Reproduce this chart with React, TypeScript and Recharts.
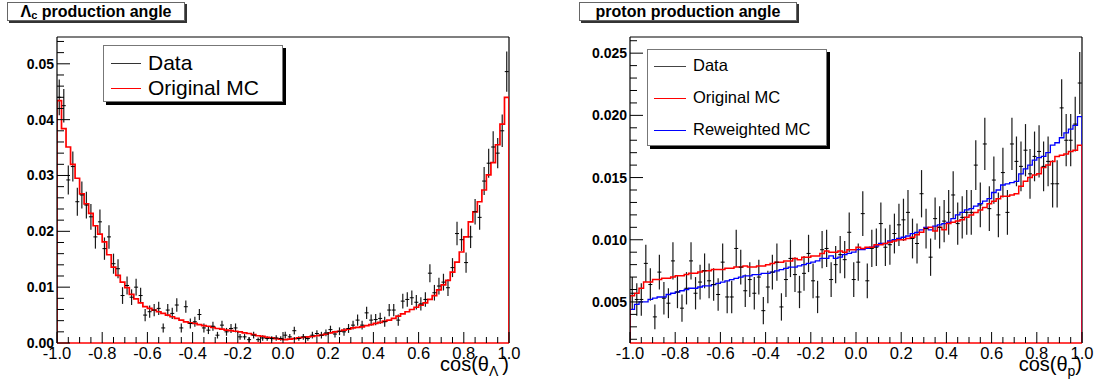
import React from 'react';
import { ComposedChart, Line, Scatter, ErrorBar, XAxis, YAxis, ReferenceLine, Legend, Label } from 'recharts';

// 100 bins over cos(theta) in [-1, 1]
const lambdaData = [
  0.0440, 0.0425, 0.0292, 0.0316, 0.0253, 0.0265, 0.0247, 0.0226, 0.0190, 0.0217,
  0.0169, 0.0190, 0.0142, 0.0133, 0.0085, 0.0103, 0.0082, 0.0100, 0.0085, 0.0050,
  0.0056, 0.0059, 0.0062, 0.0027, 0.0059, 0.0053, 0.0068, 0.0027, 0.0065, 0.0035,
  0.0038, 0.0051, 0.0027, 0.0023, 0.0030, 0.0014, 0.0032, 0.0020, 0.0026, 0.0027,
  0.0011, 0.0011, 0.0006, 0.0014, 0.0006, 0.0009, 0.0008, 0.0008, 0.0009, 0.0008,
  0.0014, 0.0011, 0.0022, 0.0008, 0.0011, 0.0008, 0.0014, 0.0017, 0.0014, 0.0018,
  0.0024, 0.0016, 0.0021, 0.0020, 0.0026, 0.0032, 0.0041, 0.0032, 0.0054, 0.0041,
  0.0042, 0.0044, 0.0038, 0.0059, 0.0059, 0.0041, 0.0075, 0.0078, 0.0081, 0.0073,
  0.0070, 0.0078, 0.0125, 0.0090, 0.0102, 0.0109, 0.0099, 0.0135, 0.0196, 0.0185,
  0.0144, 0.0190, 0.0235, 0.0225, 0.0290, 0.0322, 0.0351, 0.0340, 0.0380, 0.0486,
];
const lambdaErr = [
  0.0032, 0.0030, 0.0026, 0.0027, 0.0025, 0.0024, 0.0024, 0.0023, 0.0021, 0.0022,
  0.0020, 0.0021, 0.0018, 0.0017, 0.0015, 0.0016, 0.0014, 0.0015, 0.0014, 0.0011,
  0.0011, 0.0011, 0.0012, 0.0008, 0.0011, 0.0010, 0.0012, 0.0008, 0.0011, 0.0009,
  0.0009, 0.0010, 0.0008, 0.0007, 0.0008, 0.0006, 0.0008, 0.0007, 0.0008, 0.0008,
  0.0005, 0.0005, 0.0004, 0.0006, 0.0004, 0.0005, 0.0004, 0.0004, 0.0005, 0.0004,
  0.0006, 0.0005, 0.0007, 0.0004, 0.0005, 0.0004, 0.0006, 0.0006, 0.0006, 0.0006,
  0.0007, 0.0006, 0.0007, 0.0007, 0.0008, 0.0008, 0.0010, 0.0008, 0.0011, 0.0010,
  0.0010, 0.0010, 0.0009, 0.0011, 0.0011, 0.0010, 0.0013, 0.0013, 0.0013, 0.0013,
  0.0012, 0.0013, 0.0016, 0.0014, 0.0015, 0.0015, 0.0015, 0.0017, 0.0021, 0.0020,
  0.0018, 0.0020, 0.0023, 0.0022, 0.0025, 0.0026, 0.0028, 0.0027, 0.0029, 0.0036,
];
const lambdaMC = [
  0.0434, 0.0384, 0.0351, 0.0320, 0.0295, 0.0267, 0.0249, 0.0232, 0.0210, 0.0195,
  0.0181, 0.0158, 0.0136, 0.0121, 0.0109, 0.0099, 0.0087, 0.0079, 0.0072, 0.0065,
  0.0062, 0.0059, 0.0056, 0.0053, 0.0050, 0.0047, 0.0044, 0.0041, 0.0038, 0.0036,
  0.0035, 0.0033, 0.0031, 0.0030, 0.0028, 0.0026, 0.0025, 0.0023, 0.0022, 0.0021,
  0.0020, 0.0018, 0.0017, 0.0015, 0.0013, 0.0012, 0.0010, 0.0009, 0.0008, 0.0007,
  0.0006, 0.0007, 0.0008, 0.0009, 0.0010, 0.0011, 0.0012, 0.0013, 0.0014, 0.0016,
  0.0018, 0.0020, 0.0021, 0.0023, 0.0025, 0.0027, 0.0028, 0.0029, 0.0031, 0.0033,
  0.0035, 0.0037, 0.0039, 0.0041, 0.0044, 0.0048, 0.0052, 0.0056, 0.0060, 0.0064,
  0.0068, 0.0072, 0.0078, 0.0085, 0.0095, 0.0104, 0.0112, 0.0127, 0.0145, 0.0163,
  0.0190, 0.0217, 0.0235, 0.0253, 0.0274, 0.0301, 0.0323, 0.0355, 0.0392, 0.0440,
];

const protonData = [
  0.0057, 0.0052, 0.0052, 0.0081, 0.0064, 0.0038, 0.0074, 0.0053, 0.0049, 0.0083,
  0.0058, 0.0045, 0.0061, 0.0083, 0.0057, 0.0066, 0.0075, 0.0067, 0.0064, 0.0056,
  0.0082, 0.0054, 0.0054, 0.0093, 0.0078, 0.0059, 0.0068, 0.0057, 0.0070, 0.0043,
  0.0062, 0.0074, 0.0082, 0.0046, 0.0068, 0.0085, 0.0072, 0.0058, 0.0073, 0.0089,
  0.0067, 0.0054, 0.0092, 0.0093, 0.0068, 0.0080, 0.0088, 0.0084, 0.0106, 0.0068,
  0.0082, 0.0121, 0.0067, 0.0093, 0.0094, 0.0113, 0.0094, 0.0096, 0.0105, 0.0112,
  0.0116, 0.0122, 0.0101, 0.0097, 0.0137, 0.0109, 0.0086, 0.0117, 0.0110, 0.0115,
  0.0122, 0.0136, 0.0113, 0.0118, 0.0122, 0.0122, 0.0160, 0.0128, 0.0177, 0.0125,
  0.0148, 0.0120, 0.0154, 0.0122, 0.0177, 0.0163, 0.0159, 0.0172, 0.0153, 0.0167,
  0.0171, 0.0159, 0.0163, 0.0145, 0.0145, 0.0206, 0.0180, 0.0180, 0.0193, 0.0226,
];
const protonErr = [
  0.0013, 0.0013, 0.0013, 0.0015, 0.0013, 0.0010, 0.0014, 0.0013, 0.0012, 0.0015,
  0.0013, 0.0011, 0.0013, 0.0015, 0.0013, 0.0014, 0.0014, 0.0014, 0.0013, 0.0013,
  0.0015, 0.0013, 0.0013, 0.0015, 0.0014, 0.0013, 0.0014, 0.0013, 0.0014, 0.0011,
  0.0013, 0.0014, 0.0015, 0.0011, 0.0014, 0.0015, 0.0014, 0.0013, 0.0014, 0.0015,
  0.0014, 0.0013, 0.0015, 0.0015, 0.0014, 0.0015, 0.0015, 0.0015, 0.0016, 0.0014,
  0.0015, 0.0018, 0.0014, 0.0015, 0.0015, 0.0017, 0.0015, 0.0016, 0.0016, 0.0017,
  0.0017, 0.0018, 0.0016, 0.0016, 0.0019, 0.0016, 0.0015, 0.0017, 0.0017, 0.0017,
  0.0018, 0.0019, 0.0017, 0.0017, 0.0018, 0.0018, 0.0020, 0.0018, 0.0021, 0.0018,
  0.0019, 0.0018, 0.0020, 0.0018, 0.0021, 0.0020, 0.0020, 0.0021, 0.0020, 0.0020,
  0.0021, 0.0020, 0.0020, 0.0019, 0.0019, 0.0023, 0.0021, 0.0021, 0.0022, 0.0025,
];
const protonMC = [
  0.0055, 0.0057, 0.0061, 0.0066, 0.0066, 0.0068, 0.0068, 0.0069, 0.0069, 0.0070,
  0.0071, 0.0071, 0.0072, 0.0073, 0.0073, 0.0074, 0.0075, 0.0075, 0.0076, 0.0076,
  0.0076, 0.0077, 0.0077, 0.0078, 0.0078, 0.0079, 0.0078, 0.0078, 0.0079, 0.0079,
  0.0080, 0.0081, 0.0082, 0.0082, 0.0083, 0.0083, 0.0085, 0.0084, 0.0086, 0.0086,
  0.0087, 0.0087, 0.0089, 0.0091, 0.0090, 0.0090, 0.0091, 0.0090, 0.0092, 0.0092,
  0.0094, 0.0093, 0.0094, 0.0094, 0.0096, 0.0096, 0.0097, 0.0098, 0.0099, 0.0100,
  0.0100, 0.0101, 0.0102, 0.0104, 0.0106, 0.0109, 0.0110, 0.0107, 0.0110, 0.0108,
  0.0113, 0.0114, 0.0115, 0.0116, 0.0118, 0.0120, 0.0122, 0.0124, 0.0126, 0.0129,
  0.0131, 0.0133, 0.0135, 0.0135, 0.0136, 0.0137, 0.0143, 0.0147, 0.0150, 0.0152,
  0.0153, 0.0158, 0.0160, 0.0163, 0.0167, 0.0168, 0.0169, 0.0171, 0.0172, 0.0176,
];
const protonReweighted = [
  0.0044, 0.0048, 0.0050, 0.0050, 0.0052, 0.0053, 0.0054, 0.0054, 0.0056, 0.0057,
  0.0058, 0.0059, 0.0060, 0.0061, 0.0061, 0.0062, 0.0063, 0.0063, 0.0064, 0.0065,
  0.0066, 0.0067, 0.0068, 0.0069, 0.0070, 0.0071, 0.0071, 0.0072, 0.0072, 0.0073,
  0.0073, 0.0074, 0.0075, 0.0076, 0.0077, 0.0078, 0.0078, 0.0079, 0.0080, 0.0081,
  0.0082, 0.0083, 0.0085, 0.0085, 0.0087, 0.0085, 0.0086, 0.0088, 0.0089, 0.0090,
  0.0092, 0.0092, 0.0093, 0.0094, 0.0095, 0.0097, 0.0097, 0.0099, 0.0100, 0.0101,
  0.0102, 0.0103, 0.0105, 0.0106, 0.0108, 0.0110, 0.0108, 0.0111, 0.0112, 0.0113,
  0.0114, 0.0117, 0.0120, 0.0122, 0.0124, 0.0125, 0.0127, 0.0129, 0.0131, 0.0133,
  0.0138, 0.0140, 0.0144, 0.0145, 0.0146, 0.0147, 0.0153, 0.0157, 0.0160, 0.0164,
  0.0166, 0.0167, 0.0170, 0.0176, 0.0178, 0.0182, 0.0186, 0.0189, 0.0192, 0.0199,
];

const xMajor = [-1, -0.8, -0.6, -0.4, -0.2, 0, 0.2, 0.4, 0.6, 0.8, 1];
const lambdaYMajor = [0, 0.01, 0.02, 0.03, 0.04, 0.05];
const protonYMajor = [0.005, 0.01, 0.015, 0.02, 0.025];

const lambdaLegend = [
  { label: 'Data', color: '#333' },
  { label: 'Original MC', color: '#ff0000' },
];
const protonLegend = [
  { label: 'Data', color: '#444' },
  { label: 'Original MC', color: '#ff0000' },
  { label: 'Reweighted MC', color: '#0000ff' },
];

const FONT = '"Liberation Sans", Arial, Helvetica, sans-serif';
const XMIN = -1;
const XMAX = 1;
const BW = 0.02;

function stepPoints(vals: number[], floor: number) {
  const pts = vals.map((v, i) => ({ x: XMIN + BW * i, v }));
  return [{ x: XMIN, v: floor }, ...pts, { x: XMAX, v: vals[vals.length - 1] }, { x: XMAX, v: floor }];
}

function markerPoints(vals: number[], errs: number[]) {
  return vals.map((v, i) => ({ x: XMIN + BW * (i + 0.5), y: v, err: errs[i] }));
}

function tickRange(lo: number, hi: number, step: number) {
  const out: number[] = [];
  for (let k = 0; lo + k * step <= hi + 1e-9; k++) out.push(+(lo + k * step).toFixed(4));
  return out;
}

const isIn = (v: number, list: number[]) => list.some((m) => Math.abs(m - v) < 1e-7);

const Marker = (p: any) => (
  <line x1={p.cx - 2} x2={p.cx + 2} y1={p.cy} y2={p.cy} stroke="#000" strokeWidth={1} />
);

interface PanelProps {
  width: number;
  height: number;
  plot: { left: number; right: number; top: number; bottom: number };
  yDomain: [number, number];
  yMajor: number[];
  yMinorStep: number;
  yDigits: number;
  points: { x: number; y: number; err: number }[];
  hists: { key: string; vals: number[]; color: string; width: number }[];
  legend: { label: string; color: string }[];
  legendBox: { left: number; top: number; width: number; height: number; font: number; rowGap: number; rowTop: number; textX: number; lineX: number[] };
  titleSub: string;
  titleGap: boolean;
}

function Panel(props: PanelProps) {
  const { width, height, plot, yDomain, yMajor, yMinorStep, yDigits, points, hists, legend, legendBox } = props;
  const plotLeft = plot.left;
  const plotRight = plot.right;
  const plotBottom = plot.bottom;
  // axes take 1px each (zero-sized axes are not drawn)
  const margin = { top: plot.top, left: plot.left - 1, right: width - plot.right, bottom: height - plot.bottom - 1 };
  const xTicks = tickRange(-1, 1, 0.05);
  const yStart = Math.ceil(yDomain[0] / yMinorStep - 1e-9) * yMinorStep;
  const yTicks = tickRange(yStart, yDomain[1], yMinorStep);

  const XTick = (p: any) => {
    const v = p.payload.value;
    const major = isIn(v, xMajor);
    return (
      <g>
        <line x1={p.x} x2={p.x} y1={plotBottom} y2={plotBottom - (major ? 11 : 6)} stroke="#000" strokeWidth={1} />
        {major && (
          <text x={p.x} y={plotBottom + 16} textAnchor="middle" fontFamily={FONT} fontSize={16.5} fill="#000">
            {v.toFixed(1)}
          </text>
        )}
      </g>
    );
  };

  const YTick = (p: any) => {
    const v = p.payload.value;
    const major = isIn(v, yMajor);
    return (
      <g>
        <line x1={plotLeft} x2={plotLeft + (major ? 13 : 7)} y1={p.y} y2={p.y} stroke="#000" strokeWidth={1} />
        {major && (
          <text x={plotLeft - 3} y={p.y + 5} textAnchor="end" fontFamily={FONT} fontWeight="bold" fontSize={14} fill="#000">
            {v.toFixed(yDigits)}
          </text>
        )}
      </g>
    );
  };

  const AxisTitle = () => (
    <text x={plotRight} y={plotBottom + 28} textAnchor="end" fontFamily={FONT} fontSize={20} fill="#000">
      cos(θ
      <tspan fontSize={14} dy={5}>{props.titleSub}</tspan>
      <tspan dy={-5}>{props.titleGap ? '\u2009)' : ')'}</tspan>
    </text>
  );

  const LegendBox = () => (
    <div
      style={{
        position: 'relative',
        width: legendBox.width,
        height: legendBox.height,
        boxSizing: 'border-box',
        border: '1px solid #777',
        background: '#fff',
        boxShadow: '3px 3px 0 #000',
        fontFamily: FONT,
      }}
    >
      {legend.map((item, i) => {
        const cy = legendBox.rowTop + i * legendBox.rowGap;
        return (
          <div key={item.label}>
            <div
              style={{
                position: 'absolute',
                left: legendBox.lineX[0],
                width: legendBox.lineX[1] - legendBox.lineX[0],
                top: cy,
                height: 0,
                borderTop: `1.5px solid ${item.color}`,
              }}
            />
            <div
              style={{
                position: 'absolute',
                left: legendBox.textX,
                top: cy - legendBox.font * 0.62,
                fontSize: legendBox.font,
                lineHeight: 1.2,
                color: '#000',
                whiteSpace: 'nowrap',
              }}
            >
              {item.label}
            </div>
          </div>
        );
      })}
    </div>
  );

  return (
    <ComposedChart width={width} height={height} margin={margin}>
      <XAxis
        type="number"
        dataKey="x"
        domain={[XMIN, XMAX]}
        allowDataOverflow
        ticks={xTicks}
        interval={0}
        tick={XTick}
        tickLine={false}
        tickSize={0}
        tickMargin={0}
        height={1}
        axisLine={{ stroke: '#ff0000', strokeWidth: 1.6 }}
      >
        <Label content={AxisTitle} />
      </XAxis>
      <YAxis
        type="number"
        domain={yDomain}
        allowDataOverflow
        ticks={yTicks}
        interval={0}
        tick={YTick}
        tickLine={false}
        tickSize={0}
        tickMargin={0}
        width={1}
        axisLine={{ stroke: '#000', strokeWidth: 1.2 }}
      />
      <ReferenceLine y={yDomain[1]} stroke="#000" strokeWidth={1.2} />
      <ReferenceLine x={XMAX} stroke="#000" strokeWidth={1.2} />
      <Scatter data={points} dataKey="y" shape={Marker} isAnimationActive={false}>
        <ErrorBar dataKey="err" direction="y" width={0} stroke="#1a1a1a" strokeWidth={1.2} isAnimationActive={false} />
      </Scatter>
      {hists.map((h) => (
        <Line
          key={h.key}
          data={stepPoints(h.vals, yDomain[0])}
          dataKey="v"
          type="stepAfter"
          stroke={h.color}
          strokeWidth={h.width}
          dot={false}
          isAnimationActive={false}
        />
      ))}
      <Legend
        layout="horizontal"
        verticalAlign="middle"
        align="center"
        wrapperStyle={{ left: legendBox.left, top: legendBox.top, width: legendBox.width + 4, height: legendBox.height + 4 }}
        content={LegendBox}
      />
    </ComposedChart>
  );
}

const titleStyle: React.CSSProperties = {
  position: 'absolute',
  top: 2,
  height: 19,
  boxSizing: 'border-box',
  border: '1px solid #666',
  boxShadow: '2px 2px 0 #333',
  background: '#fff',
  fontFamily: FONT,
  fontWeight: 'bold',
  fontSize: 16,
  lineHeight: '17px',
  textAlign: 'center',
  color: '#000',
};

export default function App() {
  return (
    <div style={{ position: 'absolute', left: 0, top: 0, width: 1103, height: 383, background: '#fff', overflow: 'hidden' }}>
      <div style={{ position: 'absolute', left: 0, top: 0 }}>
        <Panel
          width={550}
          height={383}
          plot={{ left: 57, right: 509, top: 37, bottom: 343 }}
          yDomain={[0, 0.0548]}
          yMajor={lambdaYMajor}
          yMinorStep={0.002}
          yDigits={2}
          points={markerPoints(lambdaData, lambdaErr)}
          hists={[{ key: 'mc', vals: lambdaMC, color: '#ff0000', width: 1.7 }]}
          legend={lambdaLegend}
          legendBox={{ left: 103, top: 45, width: 180, height: 57, font: 21, rowGap: 25, rowTop: 17, textX: 44, lineX: [7, 37] }}
          titleSub="Λ"
          titleGap
        />
      </div>
      <div style={{ position: 'absolute', left: 550, top: 0 }}>
        <Panel
          width={553}
          height={383}
          plot={{ left: 80, right: 532, top: 37, bottom: 343 }}
          yDomain={[0.0017, 0.0263]}
          yMajor={protonYMajor}
          yMinorStep={0.001}
          yDigits={3}
          points={markerPoints(protonData, protonErr)}
          hists={[
            { key: 'rew', vals: protonReweighted, color: '#0000ff', width: 1.3 },
            { key: 'orig', vals: protonMC, color: '#ff0000', width: 1.5 },
          ]}
          legend={protonLegend}
          legendBox={{ left: 97, top: 49, width: 180, height: 97, font: 16.5, rowGap: 32, rowTop: 16, textX: 45, lineX: [6, 38] }}
          titleSub="p"
          titleGap={false}
        />
      </div>
      <div style={{ ...titleStyle, left: 7, width: 178 }}>
        Λ<span style={{ fontSize: 11, position: 'relative', top: 2 }}>c</span> production angle
      </div>
      <div style={{ ...titleStyle, left: 579, width: 218 }}>proton production angle</div>
    </div>
  );
}
